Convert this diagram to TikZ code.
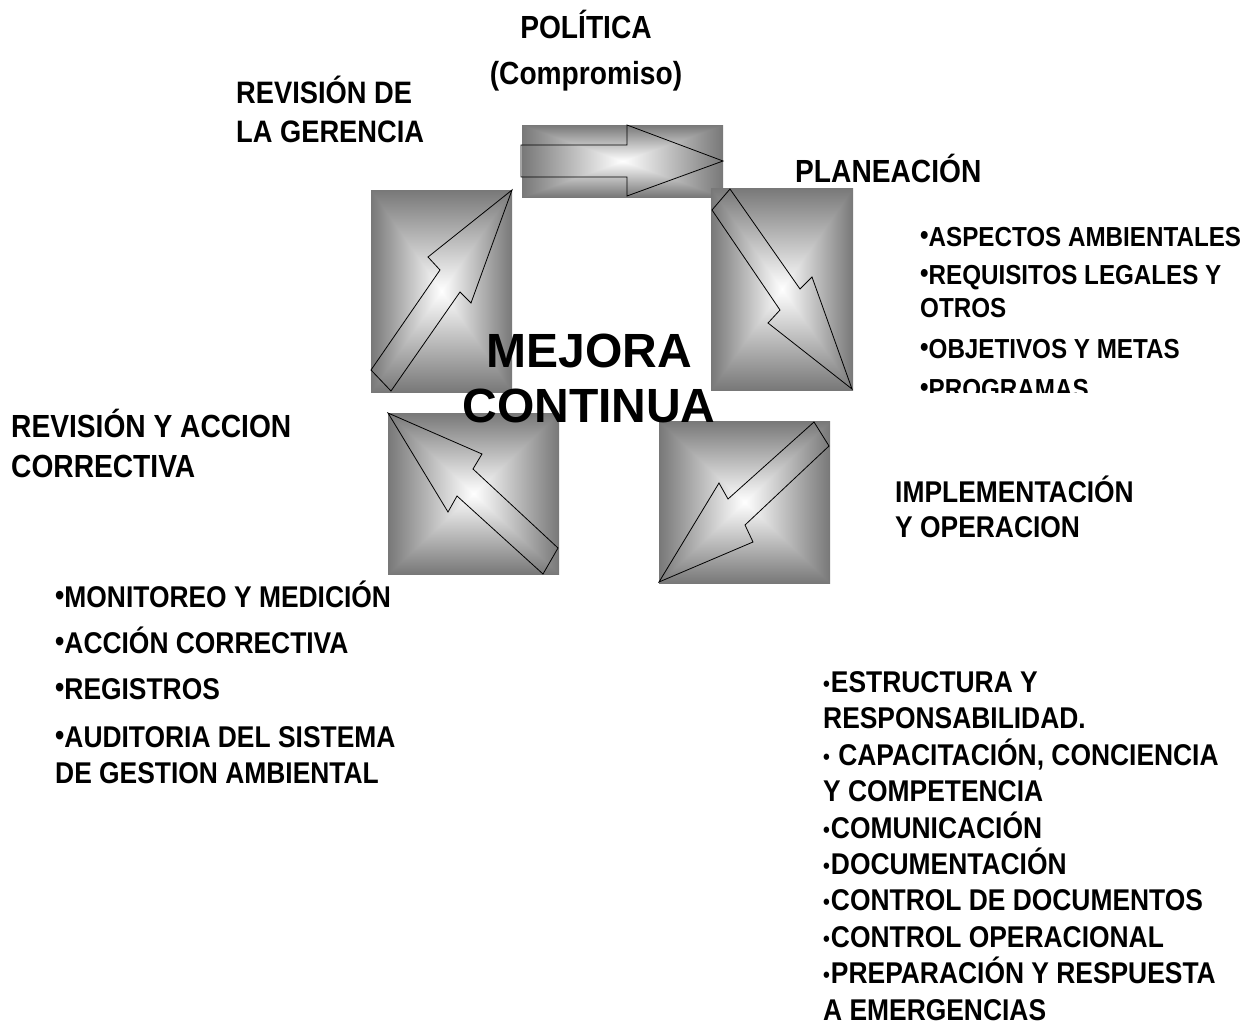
\documentclass[tikz,border=0pt]{standalone}
\usepackage{fontspec}
\setmainfont{Liberation Sans}
\newfontfamily\narrow{Liberation Sans}[FakeStretch=0.88]

% rectangular glow: white centre, grey rim (inner 50bp square fills the path)
\pgfdeclarefunctionalshading{boxglow}{\pgfpoint{-50bp}{-50bp}}{\pgfpoint{50bp}{50bp}}{}{
  abs exch abs 2 copy lt {exch} if pop
  25 div dup 1 gt {pop 1} if
  0.53 mul 1 exch sub dup dup
}

\newcommand\bul{\raisebox{1.5pt}{\textbullet}}
\newcommand\sbul{\raisebox{1pt}{\fontsize{22pt}{22pt}\selectfont\textbullet}\kern1pt}

\tikzset{
  pad/.style={shading=boxglow, inner sep=0pt},
  arw/.style={draw=black, line width=0.8pt, line join=miter},
  lbl/.style={inner sep=0pt, anchor=base west, align=left},
  fs/.style 2 args={font=\narrow\bfseries\fontsize{#1}{#2}\selectfont},
  big/.style={inner sep=0pt, anchor=base, align=center,
    font=\bfseries\fontsize{48pt}{55pt}\selectfont}
}

\begin{document}
\begin{tikzpicture}[x=1pt, y=-1pt]
  \useasboundingbox (0,0) rectangle (1259,1026);

  % the five glowing pads
  \node[pad, minimum width=201pt, minimum height=72pt] (pol) at (622.5,161) {};
  \node[pad, minimum width=141pt, minimum height=202pt] (rev) at (441.5,291) {};
  \node[pad, minimum width=142pt, minimum height=202pt] (plan) at (782,289) {};
  \node[pad, minimum width=171pt, minimum height=161pt] (chk) at (473.5,493.5) {};
  \node[pad, minimum width=171pt, minimum height=162pt] (imp) at (744.5,502) {};

  % hollow arrows on the pads
  \draw[arw] (521,145) -- (627,145) -- (627,125) -- (723,161) -- (627,196)
    -- (627,177) -- (521,177) -- cycle;
  \draw[arw] (371,370) -- (440,270) -- (428,257) -- (512,190) -- (471,303)
    -- (460,292) -- (391,391) -- cycle;
  \draw[arw] (712,210) -- (780,310) -- (768,323) -- (852,389) -- (812,277)
    -- (800,289) -- (730,189) -- cycle;
  \draw[arw] (388,413) -- (482,454) -- (473,469) -- (558,548) -- (543,574)
    -- (457,496) -- (448,512) -- cycle;
  \draw[arw] (814,422) -- (728,499) -- (719,483) -- (659,582) -- (753,542)
    -- (745,525) -- (829,446) -- cycle;

  % headings (base = last line)
  \node[lbl, fs={32pt}{40pt}, align=center, anchor=base] (pol-lbl) at (586,84)
    {POLÍTICA\\[6pt](Compromiso)};
  \node[lbl, fs={31pt}{39pt}] (rev-lbl) at (236,142) {REVISIÓN DE\\LA GERENCIA};
  \node[lbl, fs={32pt}{40pt}] (plan-lbl) at (795,182) {PLANEACIÓN};
  \node[lbl, fs={32pt}{40pt}] (act-lbl) at (11,477) {REVISIÓN Y ACCION\\CORRECTIVA};
  \node[lbl, fs={30pt}{35pt}] (imp-lbl) at (895,537) {IMPLEMENTACIÓN\\Y OPERACION};

  % lists
  \begin{scope}
    \clip (880,200) rectangle (1259,392);
    \node[lbl, fs={27.5pt}{33pt}] (plan-list) at (920,398)
      {\bul ASPECTOS AMBIENTALES\\[5pt]\bul REQUISITOS LEGALES Y\\OTROS\\[8pt]%
       \bul OBJETIVOS Y METAS\\[7pt]\bul PROGRAMAS};
  \end{scope}
  \node[lbl, fs={30pt}{36pt}] (chk-list) at (55,783)
    {\bul MONITOREO Y MEDICIÓN\\[10pt]\bul ACCIÓN CORRECTIVA\\[10pt]%
     \bul REGISTROS\\[12pt]\bul AUDITORIA DEL SISTEMA\\DE GESTION AMBIENTAL};
  \node[lbl, fs={30pt}{36.4pt}] (imp-list) at (823,1020)
    {\sbul ESTRUCTURA Y\\RESPONSABILIDAD.\\\sbul\ CAPACITACIÓN, CONCIENCIA\\%
     Y COMPETENCIA\\\sbul COMUNICACIÓN\\\sbul DOCUMENTACIÓN\\%
     \sbul CONTROL DE DOCUMENTOS\\\sbul CONTROL OPERACIONAL\\%
     \sbul PREPARACIÓN Y RESPUESTA\\A EMERGENCIAS};

  % centre caption
  \node[big] (mejora) at (589,422) {MEJORA\\CONTINUA};
\end{tikzpicture}
\end{document}
